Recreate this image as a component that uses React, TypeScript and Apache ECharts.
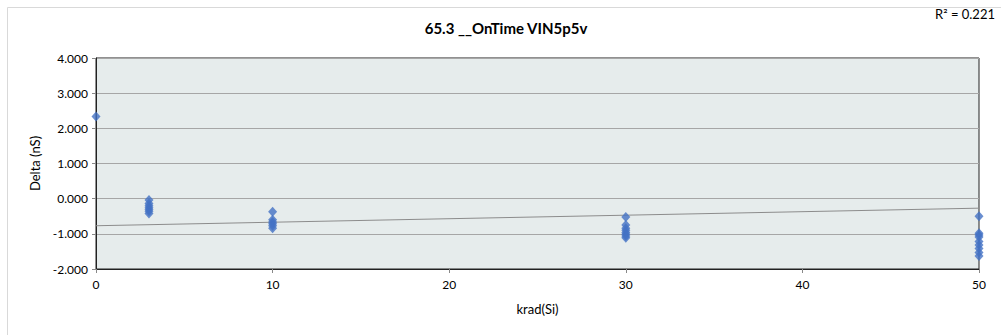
import React, { useEffect, useRef } from "react";
import * as echarts from "echarts";

const titleText = "65.3 __OnTime VIN5p5v";
const r2Text = "R² = 0.221";
const xAxisName = "krad(Si)";
const yAxisName = "Delta (nS)";

const dose0 = [0];
const delta0 = [2.34];
const dose3 = [3, 3, 3, 3, 3, 3, 3];
const delta3 = [-0.04, -0.14, -0.2, -0.26, -0.31, -0.36, -0.42];
const dose10 = [10, 10, 10, 10, 10, 10];
const delta10 = [-0.37, -0.6, -0.66, -0.71, -0.77, -0.84];
const dose30 = [30, 30, 30, 30, 30, 30, 30, 30];
const delta30 = [-0.52, -0.75, -0.84, -0.9, -0.96, -1.01, -1.06, -1.11];
const dose50 = [50, 50, 50, 50, 50, 50, 50, 50, 50];
const delta50 = [-0.5, -0.98, -1.03, -1.09, -1.22, -1.32, -1.42, -1.53, -1.63];

const trendX = [0, 50];
const trendY = [-0.77, -0.27];

const yMin = -2;
const yMax = 4;
const yStep = 1;
const xMin = 0;
const xMax = 50;
const xStep = 10;

function pairs(xs: number[], ys: number[]) {
  return xs.map((x, i) => [x, ys[i]]);
}

export default function App() {
  const ref = useRef<HTMLDivElement>(null);
  useEffect(() => {
    if (!ref.current) return;
    const chart = echarts.init(ref.current, null, { renderer: "svg" });
    const font = "Lato, 'Noto Sans', sans-serif";
    const points = [
      ...pairs(dose0, delta0),
      ...pairs(dose3, delta3),
      ...pairs(dose10, delta10),
      ...pairs(dose30, delta30),
      ...pairs(dose50, delta50),
    ];
    chart.setOption({
      animation: false,
      backgroundColor: "#ffffff",
      textStyle: { fontFamily: font },
      graphic: [
        {
          type: "rect",
          shape: { x: 7.5, y: 7.5, width: 1010, height: 340 },
          style: { fill: "none", stroke: "#d9d9d9", lineWidth: 1 },
          silent: true,
        },
        {
          type: "text",
          x: 506,
          y: 28,
          style: {
            text: titleText,
            font: `bold 15px ${font}`,
            fill: "#000000",
            align: "center",
            verticalAlign: "middle",
          },
        },
        {
          type: "text",
          x: 995,
          y: 14,
          style: {
            text: r2Text,
            font: `13px ${font}`,
            fill: "#000000",
            align: "right",
            verticalAlign: "middle",
          },
        },
      ],
      grid: {
        left: 96,
        right: 22,
        top: 58,
        bottom: 66,
        show: true,
        backgroundColor: "#e6ecec",
        borderColor: "#222222",
        borderWidth: 1,
      },
      xAxis: {
        type: "value",
        min: xMin,
        max: xMax,
        interval: xStep,
        name: xAxisName,
        nameLocation: "middle",
        nameGap: 33,
        nameTextStyle: { fontSize: 13, color: "#000", fontFamily: font },
        axisLine: { show: true, onZero: false, lineStyle: { color: "#222", width: 1 } },
        axisTick: { show: true, length: 4, lineStyle: { color: "#888" } },
        axisLabel: { fontSize: 12, color: "#000", margin: 9, fontFamily: font },
        splitLine: { show: false },
      },
      yAxis: {
        type: "value",
        min: yMin,
        max: yMax,
        interval: yStep,
        name: yAxisName,
        nameLocation: "middle",
        nameGap: 55,
        nameTextStyle: { fontSize: 13, color: "#000", fontFamily: font },
        axisLine: { show: true, onZero: false, lineStyle: { color: "#222", width: 1 } },
        axisTick: { show: true, length: 4, lineStyle: { color: "#888" } },
        axisLabel: {
          fontSize: 12,
          color: "#000",
          margin: 8,
          fontFamily: font,
          formatter: (v: number) => v.toFixed(3),
        },
        splitLine: { show: true, lineStyle: { color: "#a6a6a6", width: 1 } },
      },
      series: [
        {
          type: "line",
          data: pairs(trendX, trendY),
          symbol: "none",
          lineStyle: { color: "#8c8c8c", width: 1 },
          silent: true,
          z: 2,
        },
        {
          type: "scatter",
          data: points,
          symbol: "diamond",
          symbolSize: [9, 10],
          itemStyle: { color: "#4472c4" },
          clip: false,
          z: 3,
        },
      ],
    });
    return () => chart.dispose();
  }, []);
  return (
    <div
      ref={ref}
      style={{ position: "fixed", left: 0, top: 0, width: 1001, height: 335 }}
    />
  );
}
